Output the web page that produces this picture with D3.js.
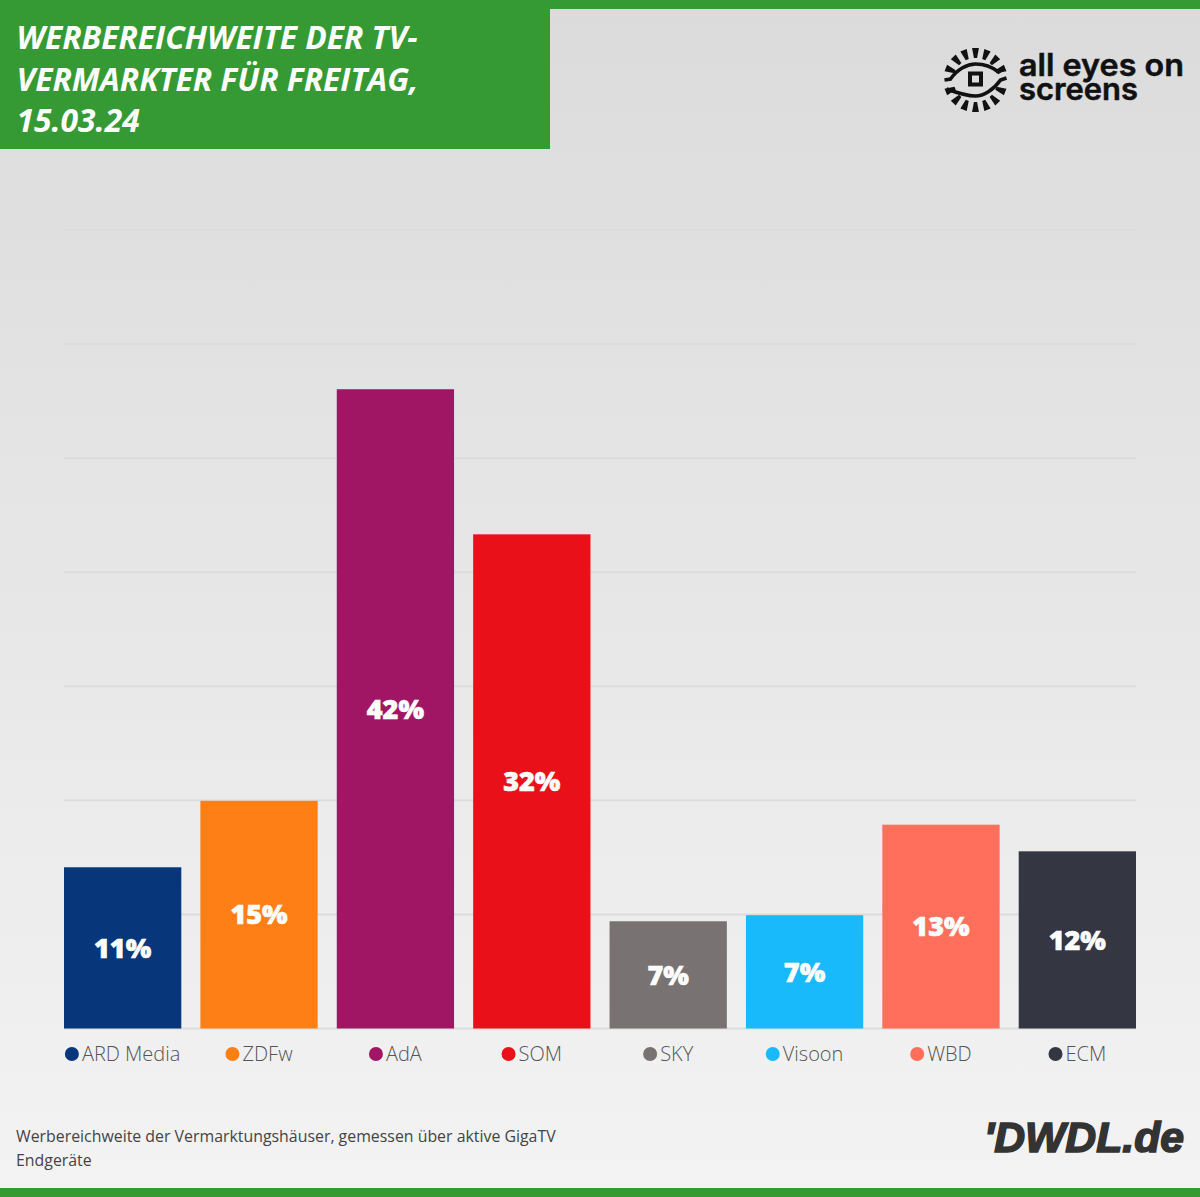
<!DOCTYPE html>
<html><head><meta charset="utf-8">
<script src="https://cdn.jsdelivr.net/npm/d3@7/dist/d3.min.js"></script>
<style>html,body{margin:0;padding:0;background:#eee}svg{display:block}text{font-family:"Open Sans",sans-serif}</style>
</head><body><svg id="c" width="1200" height="1197"></svg>
<script>
const categories=["ARD Media","ZDFw","AdA","SOM","SKY","Visoon","WBD","ECM"];
const values=[10.6,14.97,42.03,32.49,7.05,7.45,13.4,11.65];
const colors=["#08367b","#ff7f17","#a01664","#ea1019","#787272","#18bafc","#ff6f5b","#343641"];
const gridTicks=[0,7.5,15,22.5,30,37.5,45,52.5];
const titleLines=["WERBEREICHWEITE DER TV-","VERMARKTER FÜR FREITAG,","15.03.24"];
const noteLines=["Werbereichweite der Vermarktungshäuser, gemessen über aktive GigaTV","Endgeräte"];

const svg=d3.select("#c");
const defs=svg.append("defs");
const g=defs.append("linearGradient").attr("id","bg").attr("x1",0).attr("y1",0).attr("x2",0).attr("y2",1);
g.append("stop").attr("offset","0").attr("stop-color","#dbdbdb");
g.append("stop").attr("offset","1").attr("stop-color","#f3f3f3");
svg.append("rect").attr("width",1200).attr("height",1197).attr("fill","url(#bg)");
svg.append("rect").attr("width",1200).attr("height",9).attr("fill","#359a34");
svg.append("rect").attr("y",1188).attr("width",1200).attr("height",9).attr("fill","#359a34");
svg.append("rect").attr("width",550).attr("height",149).attr("fill","#359a34");
svg.selectAll(".t").data(titleLines).join("text").attr("class","t")
 .attr("x",16.5).attr("y",(d,i)=>49+i*41.5).attr("fill","#fff")
 .attr("font-size",31.8).attr("font-weight",700).attr("font-style","italic").text(d=>d);

const x=d3.scaleBand().domain(categories).range([64,1136]).paddingInner(0.14).paddingOuter(0);
const y=d3.scaleLinear().domain([0,52.5]).range([1028.5,230]);
svg.append("g").selectAll("line").data(gridTicks).join("line")
 .attr("x1",64).attr("x2",1136).attr("y1",d=>y(d)).attr("y2",d=>y(d))
 .attr("stroke","#dcdcdc").attr("stroke-width",2);
svg.append("g").selectAll("rect").data(values).join("rect")
 .attr("x",(d,i)=>x(categories[i])).attr("width",x.bandwidth())
 .attr("y",d=>y(d)).attr("height",d=>y(0)-y(d)).attr("fill",(d,i)=>colors[i]);
svg.append("g").selectAll("text").data(values).join("text")
 .attr("x",(d,i)=>x(categories[i])+x.bandwidth()/2).attr("y",d=>(y(d)+y(0))/2+9.7)
 .attr("text-anchor","middle").attr("fill","#fff").attr("stroke","#fff").attr("stroke-width",0.6)
 .attr("font-size",27).attr("font-weight",800)
 .text(d=>Math.round(d)+"%");

const leg=svg.append("g").selectAll("g").data(categories).join("g");
leg.each(function(d,i){
  const gg=d3.select(this);
  const t=gg.append("text").attr("y",1061).attr("font-size",20).attr("font-weight",300).attr("fill","#555").text(d);
  const w=t.node().getComputedTextLength();
  const cx=x(d)+x.bandwidth()/2, total=w+18;
  t.attr("x",cx-total/2+17.5);
  gg.append("circle").attr("cx",cx-total/2+7.5).attr("cy",1054).attr("r",7).attr("fill",colors[i]);
});

svg.selectAll(".n").data(noteLines).join("text").attr("class","n")
 .attr("x",16).attr("y",(d,i)=>1142+i*24).attr("font-size",15.88).attr("font-weight",400).attr("fill","#444").text(d=>d);

// DWDL wordmark
svg.append("text").attr("x",1184).attr("y",1152).attr("text-anchor","end")
 .style("font-family","'Liberation Sans'")
 .attr("font-size",42).attr("font-weight",700).attr("font-style","italic")
 .attr("fill","#333").attr("stroke","#333").attr("stroke-width",1.6).attr("textLength",200).attr("lengthAdjust","spacingAndGlyphs").text("'DWDL.de");

// All eyes on screens logo
const logo=svg.append("g").attr("transform","translate(975.5,80)");
[0,22,44,68,112,136,158,180,202,224,248,292,316,338].forEach(deg=>{
  logo.append("path").attr("d","M-1.6,-22 L1.6,-22 L3.4,-32 L-3.4,-32 Z")
   .attr("transform",`rotate(${deg})`).attr("fill","#111");
});
logo.append("path").attr("d","M-31,0 L-25,-1 C-18,-11 -8,-16 0,-16 C10,-16 18,-12 23,-8 L29,-12")
 .attr("fill","none").attr("stroke","#111").attr("stroke-width",3.6);
logo.append("path").attr("d","M31,-2 L25,0 C18,10 8,16 0,16 C-8,16 -18,13 -29,9")
 .attr("fill","none").attr("stroke","#111").attr("stroke-width",3.6);
logo.append("rect").attr("x",-5.5).attr("y",-6.5).attr("width",11).attr("height",11).attr("fill","none").attr("stroke","#111").attr("stroke-width",4);
const lt=svg.append("text").attr("font-size",31).attr("font-weight",600).attr("fill","#111")
 .style("font-family","Inter").attr("stroke","#111").attr("stroke-width",.5);
lt.append("tspan").attr("x",1019).attr("y",76).attr("textLength",165).attr("lengthAdjust","spacingAndGlyphs").text("all eyes on");
lt.append("tspan").attr("x",1019).attr("y",100).attr("textLength",119).attr("lengthAdjust","spacingAndGlyphs").text("screens");
</script></body></html>
